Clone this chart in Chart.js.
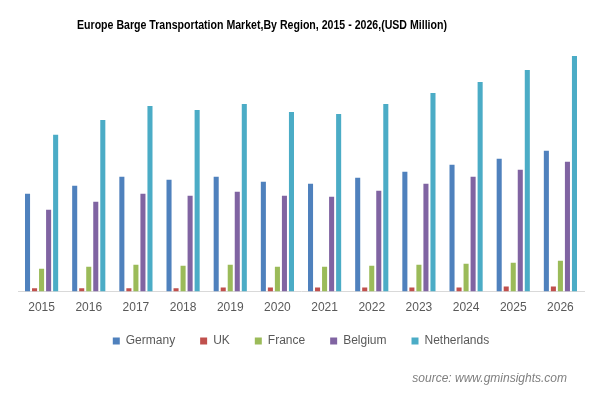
<!DOCTYPE html>
<html>
<head>
<meta charset="utf-8">
<script src="https://cdn.jsdelivr.net/npm/chart.js@4.4.1/dist/chart.umd.min.js"></script>
<style>
  html, body { margin: 0; padding: 0; background: #fff; }
  #wrap { width: 602px; height: 395px; }
</style>
</head>
<body>
<div id="wrap"><canvas id="canvas_chart01"></canvas></div>
<script>
const years = ['2015', '2016', '2017', '2018', '2019', '2020', '2021', '2022', '2023', '2024', '2025', '2026'];
const germany = [98, 106, 115, 112, 115, 110, 108, 114, 120, 127, 133, 141];
const uk = [3.3, 3.3, 3.3, 3.3, 4, 4, 4, 4, 4, 4, 5, 5];
const france = [23, 25, 27, 26, 27, 25, 25, 26, 27, 28, 29, 31];
const belgium = [82, 90, 98, 96, 100, 96, 95, 101, 108, 115, 122, 130];
const netherlands = [157, 172, 186, 182, 188, 180, 178, 188, 199, 210, 222, 236];

const ctx01 = document.getElementById('canvas_chart01');

// title + source line, drawn straight on the canvas
const textPlugin = {
    id: 'extraText',
    afterLayout(chart) {
        // pull the legend up closer to the year labels
        chart.legend.top -= 14;
        chart.legend.bottom -= 14;
    },
    afterDraw(chart) {
        const c = chart.ctx;
        const title = 'Europe Barge Transportation Market,By Region, 2015 - 2026,(USD Million)';
        c.save();
        c.fillStyle = '#000';
        c.font = 'bold 12px "Liberation Sans", Arial';
        c.textAlign = 'center';
        c.textBaseline = 'middle';
        const sx = 370 / c.measureText(title).width;
        c.translate(262, 26);
        c.scale(sx, 1);
        c.fillText(title, 0, 0);
        c.restore();

        c.save();
        c.fillStyle = '#7f7f7f';
        c.font = 'italic 12px "Liberation Sans", Arial';
        c.textAlign = 'right';
        c.textBaseline = 'middle';
        c.fillText('source: www.gminsights.com', 567, 379);
        c.restore();
    }
};

function ds(label, data, color) {
    return {
        label: label,
        data: data,
        backgroundColor: color,
        borderWidth: 0,
        barPercentage: 0.72,
        categoryPercentage: 0.745
    };
}

new Chart(ctx01, {
    type: 'bar',
    data: {
        labels: years,
        datasets: [
            ds('Germany', germany, '#4f81bd'),
            ds('UK', uk, '#c0504d'),
            ds('France', france, '#9bbb59'),
            ds('Belgium', belgium, '#8064a2'),
            ds('Netherlands', netherlands, '#4bacc6')
        ]
    },
    options: {
        responsive: true,
        maintainAspectRatio: false,
        animation: false,
        layout: {
            padding: { top: 52, left: 18, right: 18, bottom: 24 }
        },
        scales: {
            x: {
                grid: { display: false, drawTicks: false },
                border: { color: '#d9d9d9', width: 1 },
                ticks: {
                    color: '#595959',
                    padding: 9,
                    font: { family: '"Liberation Sans", Arial', size: 12 }
                }
            },
            y: {
                display: false,
                min: 0,
                max: 240
            }
        },
        plugins: {
            legend: {
                position: 'bottom',
                labels: {
                    boxWidth: 7,
                    boxHeight: 7,
                    padding: 25,
                    color: '#595959',
                    font: { family: '"Liberation Sans", Arial', size: 12 }
                }
            },
            tooltip: { enabled: false }
        }
    },
    plugins: [textPlugin]
});
</script>
</body>
</html>
